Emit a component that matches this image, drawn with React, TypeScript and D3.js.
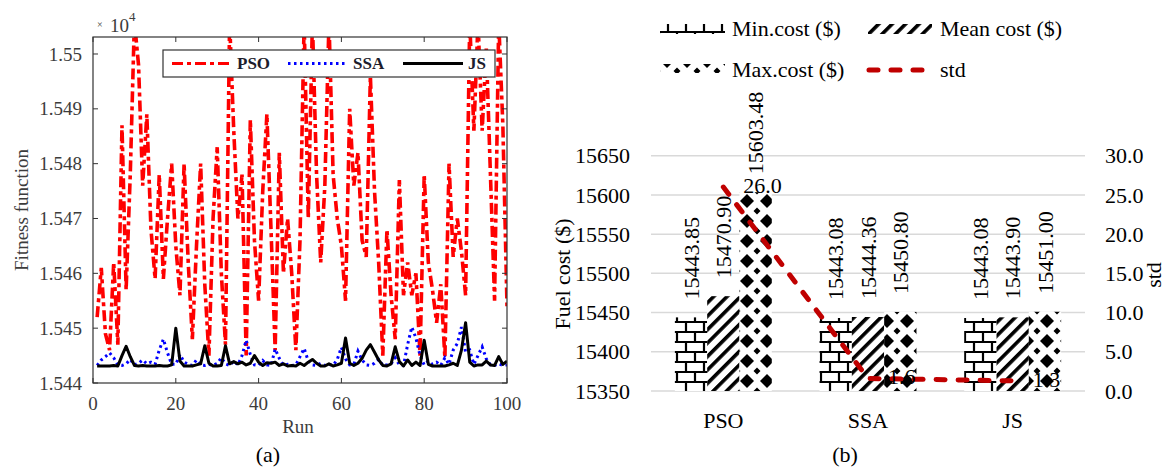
import React from 'react';
import * as d3 from 'd3';

// ---- panel (a): fitness per run ----
const psoRuns = [
  15452, 15461, 15449, 15446, 15462, 15447, 15487, 15457, 15478, 15506,
  15498, 15476, 15489, 15468, 15459, 15478, 15459, 15470, 15480, 15465,
  15456, 15480, 15462, 15448, 15465, 15480, 15458, 15445, 15470, 15483,
  15460, 15447, 15506, 15486, 15470, 15478, 15445, 15488, 15466, 15455,
  15475, 15489, 15468, 15446, 15482, 15460, 15470, 15460, 15446, 15466,
  15506, 15470, 15506, 15478, 15462, 15476, 15506, 15478, 15470, 15465,
  15455, 15490, 15476, 15482, 15466, 15463, 15496, 15475, 15462, 15445,
  15468, 15456, 15448, 15477, 15456, 15462, 15456, 15460, 15445, 15478,
  15462, 15457, 15451, 15458, 15444.6, 15480, 15463, 15470, 15464, 15456,
  15506, 15486, 15506, 15486, 15501, 15478, 15455, 15506, 15487, 15454,
];
const ssaRuns = [
  15443.2, 15444.2, 15444.8, 15445.5, 15444.6, 15443.3, 15443.2, 15443.5, 15444.3, 15443.3,
  15443.6, 15444.2, 15443.5, 15443.8, 15443.4, 15446.0, 15448.0, 15445.5, 15443.4, 15443.4,
  15445.2, 15443.8, 15443.4, 15443.2, 15444.2, 15443.3, 15443.2, 15443.4, 15443.2, 15443.6,
  15444.6, 15443.5, 15443.2, 15444.0, 15443.3, 15445.0, 15447.8, 15445.2, 15443.3, 15443.2,
  15444.1, 15443.3, 15443.2, 15446.2, 15444.5, 15443.2, 15443.4, 15443.2, 15443.3, 15444.8,
  15446.3, 15444.0, 15443.3, 15443.2, 15443.6, 15443.2, 15443.4, 15443.2, 15444.3, 15446.5,
  15444.4, 15443.3, 15443.4, 15445.8, 15444.2, 15443.3, 15443.2, 15443.6, 15444.3, 15443.2,
  15443.3, 15443.5, 15444.6, 15443.3, 15443.2, 15447.0, 15450.2, 15448.2, 15445.0, 15443.3,
  15444.0, 15443.4, 15443.8, 15443.2, 15444.6, 15443.4, 15446.0, 15447.2, 15450.2, 15445.6,
  15446.0, 15443.4, 15445.0, 15446.6, 15444.4, 15443.3, 15443.2, 15443.5, 15443.2, 15443.3,
];
const jsRuns = [
  15443.1, 15443.1, 15443.1, 15443.1, 15443.2, 15443.1, 15445.0, 15446.7, 15444.8, 15443.2,
  15443.1, 15443.2, 15443.1, 15443.1, 15443.1, 15443.2, 15443.1, 15443.1, 15443.3, 15450.0,
  15444.0, 15443.1, 15443.1, 15443.1, 15443.3, 15443.5, 15446.8, 15443.6, 15443.1, 15443.1,
  15443.2, 15446.8, 15443.5, 15443.9, 15443.5, 15443.8, 15443.3, 15443.6, 15445.0, 15443.8,
  15443.2, 15443.7, 15443.6, 15443.8, 15443.2, 15443.5, 15443.1, 15443.2, 15443.1, 15443.6,
  15443.2, 15443.8, 15444.3, 15443.6, 15443.1, 15443.1, 15443.5, 15443.1, 15443.3, 15443.6,
  15448.2, 15443.6, 15443.2, 15443.6, 15444.5, 15446.0, 15447.0, 15445.6, 15444.2, 15443.2,
  15443.1, 15443.5, 15446.6, 15443.9, 15443.1, 15444.2, 15443.2, 15443.8, 15443.2, 15447.8,
  15443.4, 15443.1, 15443.1, 15443.1, 15443.1, 15443.3, 15443.6, 15443.2, 15446.0, 15451.0,
  15443.8, 15443.1, 15443.3, 15443.3, 15444.0, 15443.3, 15443.2, 15444.8, 15443.4, 15444.0,
];
const runTicks = [0, 20, 40, 60, 80, 100];
const fitTicks = [15440, 15450, 15460, 15470, 15480, 15490, 15500];

// ---- panel (b): cost statistics ----
const algos = ['PSO', 'SSA', 'JS'];
const costSeries = ['Min.cost ($)', 'Mean cost ($)', 'Max.cost ($)'];
const minCost = [15443.85, 15443.08, 15443.08];
const meanCost = [15470.9, 15444.36, 15443.9];
const maxCost = [15603.48, 15450.8, 15451.0];
const stdCost = [26.0, 1.6, 1.3];
const costTicks = [15350, 15400, 15450, 15500, 15550, 15600, 15650];
const stdTicks = [0, 5, 10, 15, 20, 25, 30];

const serif = '"Liberation Serif", "Times New Roman", serif';

const PanelA = () => {
  const x = d3.scaleLinear().domain([0, 100]).range([93, 507]);
  const y = d3.scaleLinear().domain([15440, 15503.1]).range([383, 37]);
  const line = d3.line<number>().x((_, i) => x(i + 1)).y(d => y(d));
  const [x0, x1] = x.range();
  const [y0, y1] = y.range();
  const grey = '#3c3c3c';
  const legendItems = [
    { name: 'PSO', color: '#ff0000', dash: '11,4,4,4', lx: 172 },
    { name: 'SSA', color: '#0000ff', dash: '2.5,3.5', lx: 288 },
    { name: 'JS', color: '#000000', dash: null, lx: 403 },
  ];
  return (
    <g fontFamily={serif}>
      <defs>
        <clipPath id="clipA">
          <rect x={x0} y={y1} width={x1 - x0} height={y0 - y1} />
        </clipPath>
      </defs>
      <g clipPath="url(#clipA)" fill="none">
        <path d={line(psoRuns) || ''} stroke="#ff0000" strokeWidth={3.6} strokeDasharray="11,4,4,4" />
        <path d={line(ssaRuns) || ''} stroke="#0000ff" strokeWidth={3} strokeDasharray="2.5,3.5" />
        <path d={line(jsRuns) || ''} stroke="#000000" strokeWidth={3} strokeLinejoin="round" />
      </g>
      <rect x={x0} y={y1} width={x1 - x0} height={y0 - y1} fill="none" stroke="#333" strokeWidth={1.2} />
      {runTicks.map(t => (
        <g key={'xt' + t}>
          <line x1={x(t)} x2={x(t)} y1={y0} y2={y0 - 5} stroke="#333" />
          <line x1={x(t)} x2={x(t)} y1={y1} y2={y1 + 5} stroke="#333" />
          <text x={x(t)} y={410} textAnchor="middle" fontSize={19} fill={grey}>{t}</text>
        </g>
      ))}
      {fitTicks.map(t => (
        <g key={'yt' + t}>
          <line x1={x0} x2={x0 + 5} y1={y(t)} y2={y(t)} stroke="#333" />
          <line x1={x1} x2={x1 - 5} y1={y(t)} y2={y(t)} stroke="#333" />
          <text x={82} y={y(t)} dy="0.35em" textAnchor="end" fontSize={19} fill={grey}>
            {String(+(t / 1e4).toFixed(3))}
          </text>
        </g>
      ))}
      <text x={97} y={28} fontSize={10} fill={grey}>×</text>
      <text x={110} y={32} fontSize={19} fill={grey}>10</text>
      <text x={129} y={21} fontSize={13} fill={grey}>4</text>
      <text transform="translate(28,210) rotate(-90)" textAnchor="middle" fontSize={19} fill={grey}>Fitness function</text>
      <text x={298} y={433} textAnchor="middle" fontSize={19} fill={grey}>Run</text>
      <text x={268} y={462} textAnchor="middle" fontSize={22} fill="#000">(a)</text>

      <rect x={163} y={50} width={332} height={27} fill="#fff" stroke="#333" strokeWidth={1.2} />
      {legendItems.map(it => (
        <g key={it.name}>
          <line x1={it.lx} x2={it.lx + 60} y1={63.5} y2={63.5} stroke={it.color} strokeWidth={3.2}
            strokeDasharray={it.dash || undefined} />
          <text x={it.lx + 65} y={69} fontSize={17} fontWeight="bold" fill="#1c1c2c">{it.name}</text>
        </g>
      ))}
    </g>
  );
};

const PanelB = () => {
  const band = d3.scaleBand<string>().domain(algos).range([651, 1085]).paddingInner(0.33).paddingOuter(0.165);
  const inner = d3.scaleBand<string>().domain(costSeries).range([0, band.bandwidth()]);
  const y = d3.scaleLinear().domain([15350, 15650]).range([391, 155.7]);
  const yS = d3.scaleLinear().domain([0, 30]).range([391, 155.7]);
  const fills = ['url(#brick)', 'url(#diag)', 'url(#diamond)'];
  const seriesVals = [minCost, meanCost, maxCost];
  const stdLine = d3.line<number>().x((_, i) => band(algos[i])! + band.bandwidth() / 2).y(d => yS(d));
  const [gx0, gx1] = band.range();
  const fs = 22;
  return (
    <g fontFamily={serif} fill="#000">
      <defs>
        <pattern id="brick" patternUnits="userSpaceOnUse" width={18} height={20} x={675} y={391}>
          <rect width={18} height={20} fill="#fff" />
          <path d="M0 1 H18 M0 11 H18 M2 1 V11 M11 11 V21" stroke="#000" strokeWidth={2.2} fill="none" />
        </pattern>
        <pattern id="diag" patternUnits="userSpaceOnUse" width={9.5} height={9.5} patternTransform="rotate(45)">
          <rect width={9.5} height={9.5} fill="#fff" />
          <rect width={3.6} height={9.5} fill="#000" />
        </pattern>
        <pattern id="diamond" patternUnits="userSpaceOnUse" width={20} height={20} x={737} y={391}>
          <rect width={20} height={20} fill="#fff" />
          <path d="M10 3 L17 10 L10 17 L3 10 Z" fill="#000" />
          <path d="M0 -3.5 L3.5 0 L0 3.5 L-3.5 0 Z M20 -3.5 L23.5 0 L20 3.5 L16.5 0 Z M0 16.5 L3.5 20 L0 23.5 L-3.5 20 Z M20 16.5 L23.5 20 L20 23.5 L16.5 20 Z" fill="#000" />
        </pattern>
      </defs>

      {costTicks.map(t => (
        <g key={'g' + t}>
          <line x1={gx0} x2={gx1} y1={y(t)} y2={y(t)} stroke="#d9d9d9" strokeWidth={1.5} />
          <text x={630} y={y(t)} dy="0.35em" textAnchor="end" fontSize={fs}>{t}</text>
        </g>
      ))}
      {stdTicks.map(t => (
        <text key={'s' + t} x={1105} y={yS(t)} dy="0.35em" fontSize={fs}>{t.toFixed(1)}</text>
      ))}
      <text transform="translate(570,274) rotate(-90)" textAnchor="middle" fontSize={fs}>Fuel cost ($)</text>
      <text transform="translate(1161,275) rotate(-90)" textAnchor="middle" fontSize={fs}>std</text>

      {algos.map((a, i) => (
        <g key={a}>
          {costSeries.map((s, j) => {
            const bx = band(a)! + inner(s)!;
            const v = seriesVals[j][i];
            const top = y(v);
            const cx = bx + inner.bandwidth() / 2;
            return (
              <g key={s}>
                <rect x={bx} y={top} width={inner.bandwidth()} height={y(15350) - top} fill={fills[j]} />
                <text transform={`translate(${cx},${top - 18}) rotate(-90)`} dy="0.35em" fontSize={fs}>
                  {v.toFixed(2)}
                </text>
              </g>
            );
          })}
          <text x={band(a)! + band.bandwidth() / 2} y={428} textAnchor="middle" fontSize={fs}>{a}</text>
        </g>
      ))}

      <path d={stdLine(stdCost) || ''} fill="none" stroke="#c00000" strokeWidth={5}
        strokeDasharray="9,13" strokeLinecap="round" />
      {algos.map((a, i) => (
        <text key={'sl' + a} x={band(a)! + band.bandwidth() / 2 + 20} y={yS(stdCost[i]) - 2} dy="0.35em" fontSize={fs}>
          {stdCost[i].toFixed(1)}
        </text>
      ))}

      {/* legend */}
      <rect x={660} y={24} width={65} height={10} fill="url(#brick)" />
      <text x={732} y={36} fontSize={fs}>{costSeries[0]}</text>
      <rect x={868} y={24} width={64} height={10} fill="url(#diag)" />
      <text x={940} y={36} fontSize={fs}>{costSeries[1]}</text>
      <rect x={660} y={64} width={65} height={9} fill="url(#diamond)" />
      <text x={732} y={77} fontSize={fs}>{costSeries[2]}</text>
      <line x1={869} x2={927} y1={70} y2={70} stroke="#c00000" strokeWidth={5} strokeDasharray="9,13" strokeLinecap="round" />
      <text x={940} y={77} fontSize={fs}>std</text>

      <text x={845} y={462} textAnchor="middle" fontSize={fs}>(b)</text>
    </g>
  );
};

export default function App() {
  return (
    <svg width={1165} height={470} style={{ position: 'absolute', left: 0, top: 0, background: '#fff' }}>
      <rect width={1165} height={470} fill="#fff" />
      <PanelA />
      <PanelB />
    </svg>
  );
}
